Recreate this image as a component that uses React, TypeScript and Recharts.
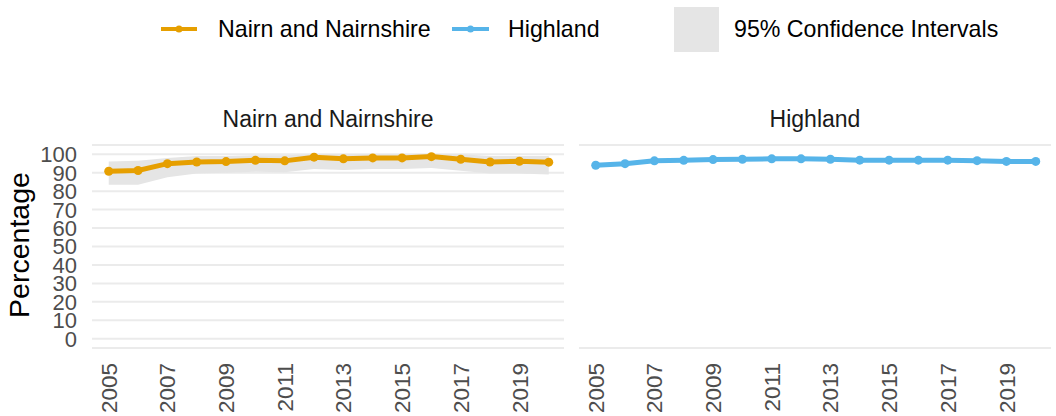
import React from 'react';
import { ComposedChart, Line, Area, XAxis, YAxis, CartesianGrid } from 'recharts';

const years = [2005, 2006, 2007, 2008, 2009, 2010, 2011, 2012, 2013, 2014, 2015, 2016, 2017, 2018, 2019, 2020];
const nairnValues = [90.8, 91.2, 94.9, 95.8, 96.0, 96.7, 96.4, 98.4, 97.5, 98.0, 98.0, 98.7, 97.3, 95.8, 96.2, 95.7];
const nairnLower = [83.5, 83.5, 87.5, 89.5, 90.0, 90.5, 90.2, 92.0, 91.5, 92.0, 92.0, 92.5, 91.0, 89.5, 89.5, 89.0];
const nairnUpper = [96.0, 96.5, 98.0, 99.0, 99.0, 99.5, 99.5, 100.0, 100.0, 100.0, 100.0, 100.0, 100.0, 99.0, 99.0, 99.0];
const highlandValues = [94.0, 94.9, 96.4, 96.7, 97.1, 97.3, 97.5, 97.5, 97.3, 96.8, 96.8, 96.8, 96.8, 96.5, 96.1, 96.1];
const yTicks = [0, 10, 20, 30, 40, 50, 60, 70, 80, 90, 100];
const xTicks = [2005, 2007, 2009, 2011, 2013, 2015, 2017, 2019];
const seriesNames = ['Nairn and Nairnshire', 'Highland'];
const ciLabel = '95% Confidence Intervals';

const ORANGE = '#E69F00';
const BLUE = '#56B4E9';
const FONT = '"Liberation Sans", Arial, sans-serif';

const nairnData = years.map((y, i) => ({ year: y, value: nairnValues[i], ci: [nairnLower[i], nairnUpper[i]] }));
const highlandData = years.map((y, i) => ({ year: y, value: highlandValues[i] }));

const XTick = (props: any) => {
  const { x, y, payload } = props;
  return (
    <text x={x} y={y} transform={`rotate(-90, ${x}, ${y})`} textAnchor="end" dy="0.36em" fill="#4d4d4d" fontSize={22.5} fontFamily={FONT}>
      {payload.value}
    </text>
  );
};

const YTick = (props: any) => {
  const { x, y, payload } = props;
  return (
    <text x={x} y={y} textAnchor="end" dy="0.36em" fill="#4d4d4d" fontSize={22} fontFamily={FONT}>
      {payload.value}
    </text>
  );
};

const xDomain: [number, number] = [2004.43, 2020.52];
const yDomain: [number, number] = [-5, 105];

export default function App() {
  return (
    <div style={{ position: 'absolute', left: 0, top: 0, width: 1056, height: 416, background: '#fff', fontFamily: FONT }}>
      <svg width={1056} height={416} style={{ position: 'absolute', left: 0, top: 0 }}>
        <line x1={161} x2={197} y1={29} y2={29} stroke={ORANGE} strokeWidth={4} />
        <circle cx={179} cy={29} r={3.5} fill={ORANGE} />
        <text x={218} y={29} dy="0.36em" fontSize={23.2} fill="#000" fontFamily={FONT}>{seriesNames[0]}</text>
        <line x1={452} x2={489} y1={29} y2={29} stroke={BLUE} strokeWidth={4} />
        <circle cx={470.5} cy={29} r={3.5} fill={BLUE} />
        <text x={508} y={29} dy="0.36em" fontSize={23.2} fill="#000" fontFamily={FONT}>{seriesNames[1]}</text>
        <rect x={674} y={7} width={45} height={45} fill="#e5e5e5" />
        <text x={734} y={29} dy="0.36em" fontSize={23.2} fill="#000" fontFamily={FONT}>{ciLabel}</text>
        <text x={328} y={127} textAnchor="middle" fontSize={23} fill="#1a1a1a" fontFamily={FONT}>{seriesNames[0]}</text>
        <text x={815} y={127} textAnchor="middle" fontSize={23} fill="#1a1a1a" fontFamily={FONT}>{seriesNames[1]}</text>
        <text x={19} y={245} transform="rotate(-90, 19, 245)" textAnchor="middle" dy="0.36em" fontSize={28.5} fill="#000" fontFamily={FONT}>Percentage</text>
      </svg>
      <div style={{ position: 'absolute', left: 0, top: 0 }}>
        <ComposedChart width={572} height={416} data={nairnData} margin={{ top: 145, right: 8, bottom: 0, left: 0 }}>
          <CartesianGrid vertical={false} stroke="#ebebeb" strokeWidth={2} />
          <XAxis dataKey="year" type="number" domain={xDomain} ticks={xTicks} height={68} tickSize={0} tickMargin={15} axisLine={false} tickLine={false} tick={<XTick />} interval={0} allowDataOverflow />
          <YAxis type="number" domain={yDomain} ticks={yTicks} width={92} tickSize={0} tickMargin={15} axisLine={false} tickLine={false} tick={<YTick />} interval={0} allowDataOverflow />
          <Area dataKey="ci" type="linear" fill="#e5e5e5" fillOpacity={1} stroke="none" isAnimationActive={false} activeDot={false} />
          <Line dataKey="value" type="linear" stroke={ORANGE} strokeWidth={5} dot={{ r: 4.5, fill: ORANGE, stroke: ORANGE, strokeWidth: 0 }} activeDot={false} isAnimationActive={false} />
        </ComposedChart>
      </div>
      <div style={{ position: 'absolute', left: 571, top: 0 }}>
        <ComposedChart width={485} height={416} data={highlandData} margin={{ top: 145, right: 5, bottom: 0, left: 8 }}>
          <CartesianGrid vertical={false} stroke="#ebebeb" strokeWidth={2} />
          <XAxis dataKey="year" type="number" domain={xDomain} ticks={xTicks} height={68} tickSize={0} tickMargin={15} axisLine={false} tickLine={false} tick={<XTick />} interval={0} allowDataOverflow />
          <YAxis type="number" domain={yDomain} ticks={yTicks} width={0} tick={false} axisLine={false} tickLine={false} interval={0} allowDataOverflow />
          <Line dataKey="value" type="linear" stroke={BLUE} strokeWidth={5} dot={{ r: 4.5, fill: BLUE, stroke: BLUE, strokeWidth: 0 }} activeDot={false} isAnimationActive={false} />
        </ComposedChart>
      </div>
    </div>
  );
}
